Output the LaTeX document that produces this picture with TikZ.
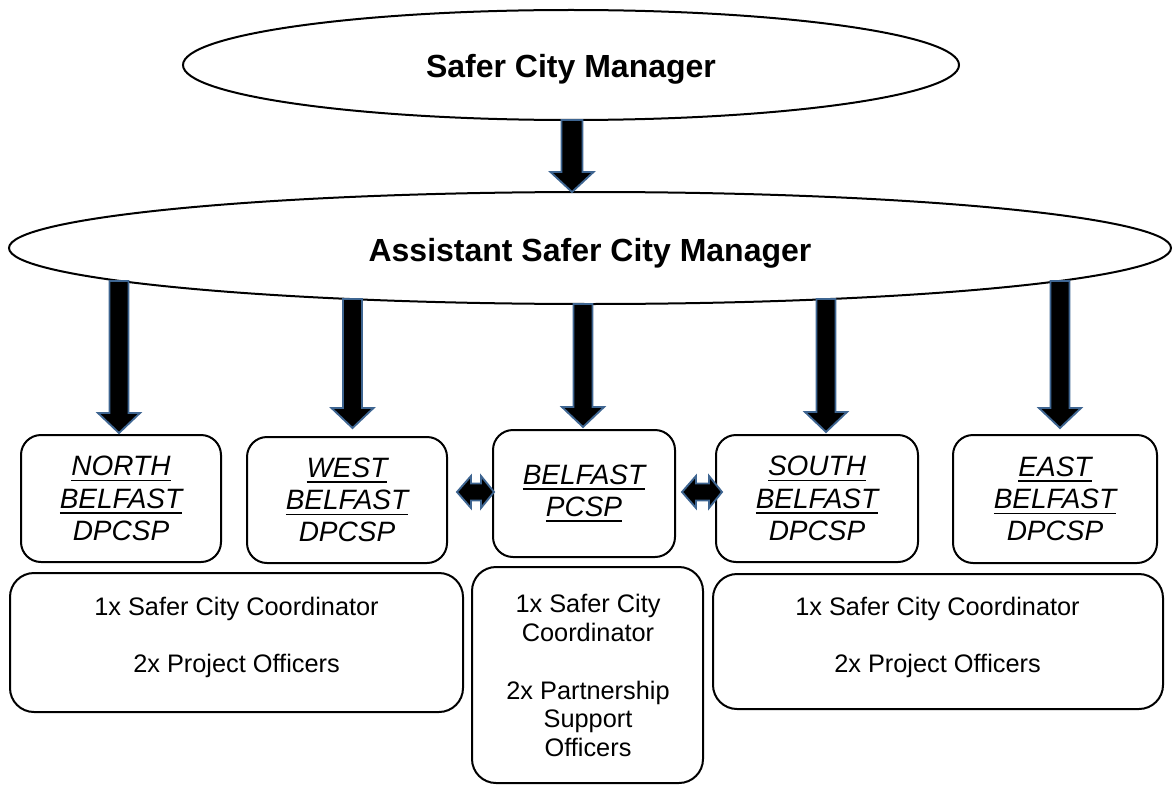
\documentclass[tikz,border=0pt]{standalone}
\usepackage{fontspec}
\setmainfont{Liberation Sans}
\usetikzlibrary{shapes.geometric}
\definecolor{arrowedge}{HTML}{3E6591}
\newcommand\myul[1]{\leavevmode\setbox0=\hbox{#1}\rlap{\rule[-4.2pt]{\wd0}{1.3pt}}\box0}
% block arrow pointing down: x, top y, tip y, half shaft, half head, head length
\newcommand\downblock[6]{%
  \draw[blk] (#1-#4,#2) -- (#1+#4,#2) -- (#1+#4,#3-#6) -- (#1+#5,#3-#6) -- (#1,#3)
    -- (#1-#5,#3-#6) -- (#1-#4,#3-#6) -- cycle;}
% double headed horizontal block arrow: left tip x, right tip x, y
\newcommand\twoblock[3]{%
  \draw[blk] (#1,#3) -- (#1+14,#3-16) -- (#1+14,#3-8.5) -- (#2-13,#3-8.5) -- (#2-13,#3-16)
    -- (#2,#3) -- (#2-13,#3+16) -- (#2-13,#3+8.5) -- (#1+14,#3+8.5) -- (#1+14,#3+16) -- cycle;}
\begin{document}
\begin{tikzpicture}[x=0.75pt,y=-0.75pt,
  ell/.style={draw,line width=1.5pt,ellipse,inner sep=0pt},
  rbox/.style={draw,line width=1.5pt,rounded corners=15pt,inner sep=0pt,align=center,
    font=\fontsize{21}{24.2}\selectfont\itshape},
  lowbox/.style={draw,line width=1.5pt,rounded corners=18pt,inner sep=0pt},
  lowtxt/.style={align=center,font=\fontsize{19}{21.6}\selectfont,inner sep=0pt},
  ttl/.style={font=\fontsize{24}{28}\selectfont\bfseries,anchor=base,inner sep=0pt},
  blk/.style={fill=black,draw=arrowedge,line width=1.4pt,line join=miter}
]
\useasboundingbox (0,0) rectangle (1176,788);

% ellipses
\node[ell,minimum width=582pt,minimum height=82.5pt] (scm) at (571,65) {};
\node[ttl] (scmt) at (571,78) {Safer City Manager};
\node[ell,minimum width=871.5pt,minimum height=84pt] (ascm) at (590,248) {};
\node[ttl] (ascmt) at (590,261) {Assistant Safer City Manager};

% partnership boxes
\node[rbox,minimum width=150pt,minimum height=95.25pt] (north) at (121,498.5)
  {\myul{NORTH}\\\myul{BELFAST}\\DPCSP};
\node[rbox,minimum width=150pt,minimum height=94.5pt] (west) at (347,500)
  {\myul{WEST}\\\myul{BELFAST}\\DPCSP};
\node[rbox,minimum width=136.5pt,minimum height=95.25pt] (pcsp) at (584,493.5)
  {\myul{BELFAST}\\\myul{PCSP}};
\node[rbox,minimum width=151.5pt,minimum height=95.25pt] (south) at (817,498.5)
  {\myul{SOUTH}\\\myul{BELFAST}\\DPCSP};
\node[rbox,minimum width=153pt,minimum height=96pt] (east) at (1055,499)
  {\myul{EAST}\\\myul{BELFAST}\\DPCSP};

% staff boxes
\node[lowbox,minimum width=339.75pt,minimum height=104.25pt] (staffl) at (236.5,642.5) {};
\node[lowtxt] (stafflt) at (236.5,637.5) {1x Safer City Coordinator\\[21.6pt]2x Project Officers};
\node[lowbox,minimum width=173.25pt,minimum height=162pt] (staffm) at (587.5,675) {};
\node[lowtxt] (staffmt) at (588,675.7) {1x Safer City\\Coordinator\\[21.6pt]2x Partnership\\Support\\Officers};
\node[lowbox,minimum width=337.5pt,minimum height=101.25pt] (staffr) at (938,641.5) {};
\node[lowtxt] (staffrt) at (937.5,637.5) {1x Safer City Coordinator\\[21.6pt]2x Project Officers};

% arrows
\downblock{572}{120}{192}{10.5}{21.5}{20}
\downblock{119}{281}{433}{9.5}{21}{20}
\downblock{352.5}{299}{428}{9.5}{21}{20}
\downblock{583}{304}{427}{9.5}{21}{20}
\downblock{826}{299}{432}{9.5}{21}{20}
\downblock{1060}{281}{428}{9.5}{21}{20}

\twoblock{457}{494}{492}
\twoblock{682}{722}{492}
\end{tikzpicture}
\end{document}
